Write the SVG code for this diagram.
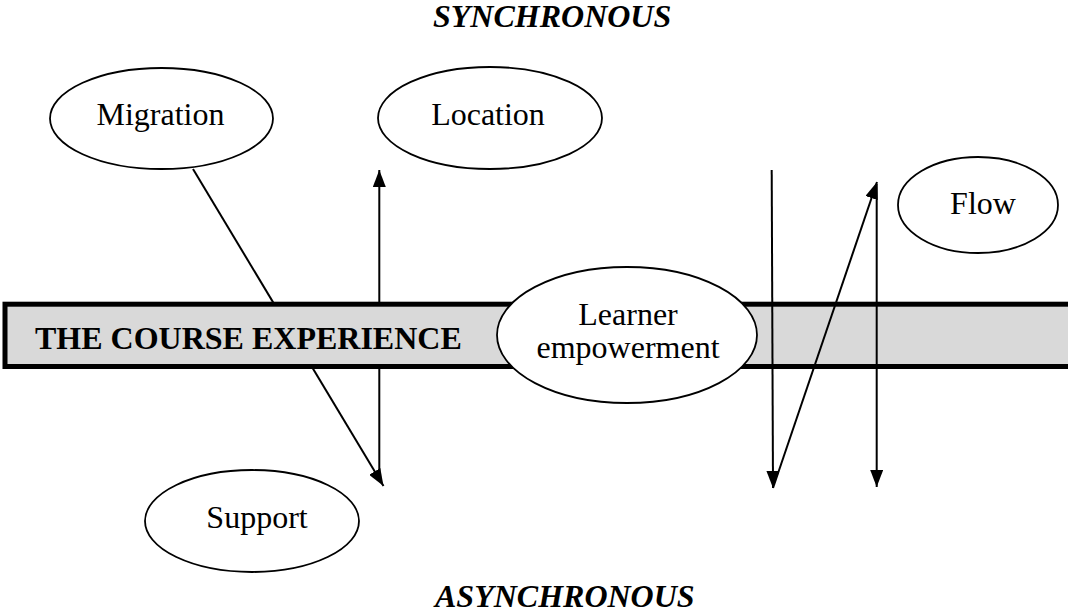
<svg xmlns="http://www.w3.org/2000/svg" width="1068" height="616" viewBox="0 0 1068 616">
  <defs>
    <marker id="arrow" viewBox="0 0 17 13" refX="17" refY="6.5" markerWidth="17" markerHeight="13" markerUnits="userSpaceOnUse" orient="auto">
      <path d="M0,0 L17,6.5 L0,13 z" fill="#000"/>
    </marker>
    <style>
      .node ellipse { fill: #fff; stroke: #000; stroke-width: 1.8; }
      .label { font-family: "Liberation Serif", "Times New Roman", serif; font-size: 32px; fill: #000; text-anchor: middle; }
      .axis { font-family: "Liberation Serif", "Times New Roman", serif; font-size: 32px; font-weight: bold; font-style: italic; fill: #000; }
      .bar-text { font-family: "Liberation Serif", "Times New Roman", serif; font-size: 32px; font-weight: bold; fill: #000; }
      .link { stroke: #000; stroke-width: 2; fill: none; }
      .head { marker-end: url(#arrow); }
    </style>
  </defs>
  <rect width="1068" height="616" fill="#fff"/>

  <text class="axis" x="433" y="27">SYNCHRONOUS</text>
  <text class="axis" x="435" y="607">ASYNCHRONOUS</text>

  <!-- connectors that pass behind the course bar -->
  <g id="connectors-back">
    <line class="link head" x1="193" y1="169" x2="383.5" y2="486"/>
    <line class="link head" x1="379.3" y1="480" x2="379.3" y2="170"/>
  </g>

  <!-- the course bar -->
  <g id="course-experience">
    <rect x="5" y="304.2" width="1070" height="62.3" fill="#d9d9d9" stroke="#000" stroke-width="5"/>
    <text class="bar-text" x="35" y="349">THE COURSE EXPERIENCE</text>
  </g>

  <!-- connectors drawn over the course bar -->
  <g id="connectors-front">
    <line class="link head" x1="771.7" y1="170" x2="773" y2="488"/>
    <line class="link head" x1="773" y1="488" x2="877" y2="182"/>
    <line class="link head" x1="876.7" y1="184" x2="876.7" y2="487"/>
  </g>

  <g id="migration" class="node">
    <ellipse cx="161.5" cy="118.5" rx="111.5" ry="50.5"/>
    <text class="label" x="160.5" y="125">Migration</text>
  </g>

  <g id="location" class="node">
    <ellipse cx="490" cy="118" rx="112" ry="51"/>
    <text class="label" x="488" y="125">Location</text>
  </g>

  <g id="flow" class="node">
    <ellipse cx="978" cy="205" rx="80" ry="48"/>
    <text class="label" x="983" y="214">Flow</text>
  </g>

  <g id="learner-empowerment" class="node">
    <ellipse cx="627" cy="335" rx="130" ry="68"/>
    <text class="label" x="628" y="325">Learner</text>
    <text class="label" x="628" y="358">empowerment</text>
  </g>

  <g id="support" class="node">
    <ellipse cx="252" cy="521" rx="107" ry="51"/>
    <text class="label" x="257" y="528">Support</text>
  </g>
</svg>
